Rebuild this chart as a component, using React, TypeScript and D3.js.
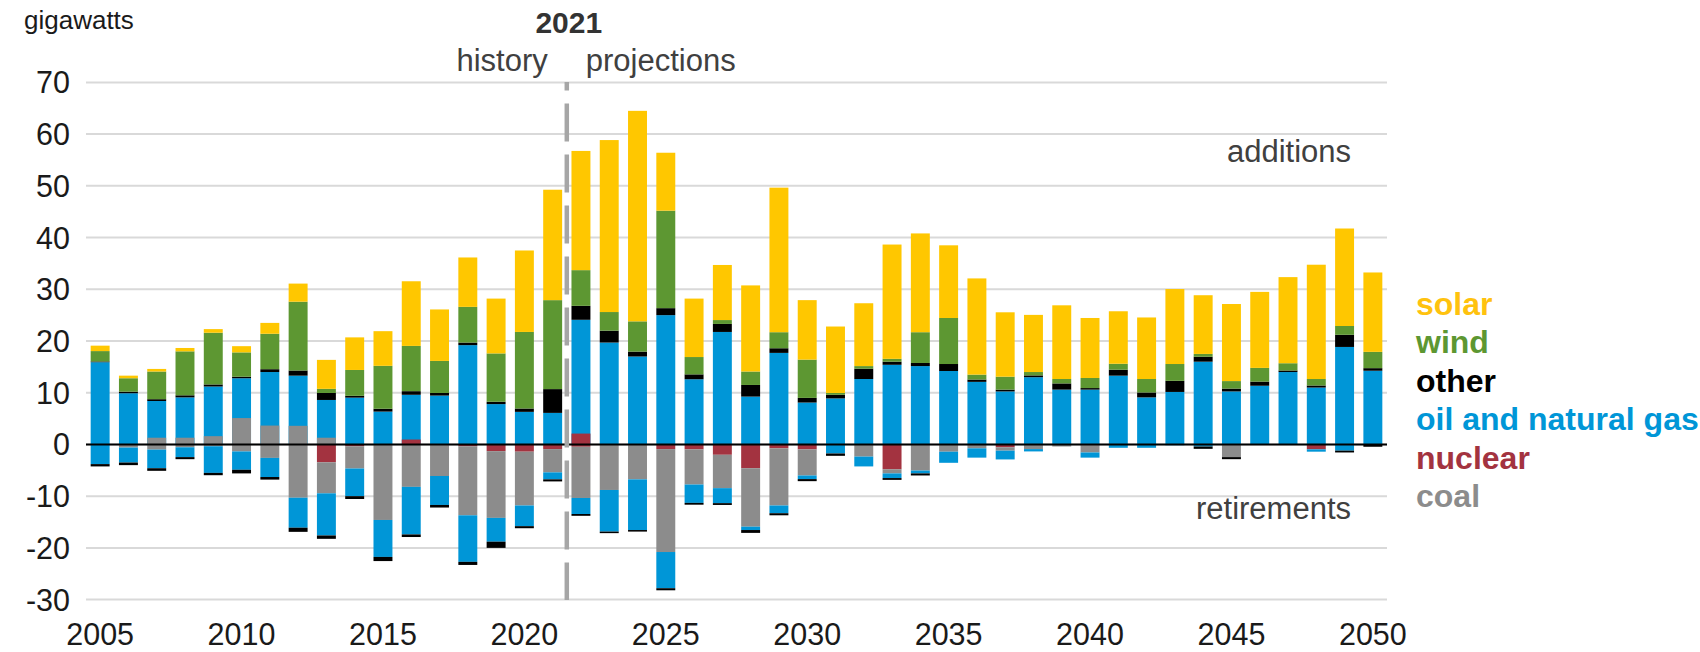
import React from 'react';
import * as d3 from 'd3';

// capacity additions and retirements, gigawatts, 2005-2050
const years = d3.range(2005, 2051);

const gasAdd = [15.9, 9.9, 8.4, 9.1, 11.2, 12.8, 14.0, 13.3, 8.6, 9.05, 6.35, 9.6, 9.45, 19.2, 7.8, 6.3, 6.1, 24.1, 19.7, 17.0, 25.0, 12.6, 21.75, 9.25, 17.7, 8.1, 8.9, 12.65, 15.4, 15.15, 14.2, 12.1, 10.25, 13.0, 10.6, 10.6, 13.3, 9.1, 10.15, 16.0, 10.25, 11.35, 14.0, 11.0, 18.85, 14.25];
const otherAdd = [0.15, 0.3, 0.35, 0.4, 0.4, 0.3, 0.55, 1.0, 1.35, 0.35, 0.55, 0.7, 0.5, 0.5, 0.45, 0.65, 4.6, 2.7, 2.3, 0.95, 1.35, 0.95, 1.55, 2.25, 0.9, 0.9, 0.7, 2.0, 0.6, 0.6, 1.35, 0.45, 0.35, 0.35, 1.2, 0.3, 1.15, 0.95, 2.15, 0.95, 0.55, 0.8, 0.3, 0.4, 2.35, 0.5];
const windAdd = [2.0, 2.6, 5.35, 8.5, 10.0, 4.7, 6.85, 13.3, 0.8, 5.0, 8.3, 8.75, 6.2, 6.9, 9.35, 14.8, 17.2, 6.9, 3.6, 5.85, 18.85, 3.35, 0.75, 2.6, 3.1, 7.4, 0.35, 0.5, 0.55, 5.95, 8.9, 0.95, 2.5, 0.65, 0.85, 1.95, 1.15, 2.6, 3.25, 0.55, 1.45, 2.65, 1.4, 1.25, 1.7, 3.15];
const solarAdd = [1.05, 0.5, 0.5, 0.65, 0.7, 1.2, 2.1, 3.5, 5.6, 6.3, 6.7, 12.5, 9.95, 9.55, 10.6, 15.75, 21.35, 23.05, 33.25, 40.7, 11.2, 11.3, 10.65, 16.65, 27.95, 11.5, 12.85, 12.15, 22.1, 19.1, 14.05, 18.6, 12.45, 11.05, 14.25, 11.6, 10.15, 11.9, 14.5, 11.35, 14.9, 14.7, 16.65, 22.1, 18.85, 15.35];

// coal and nuclear additions sit on the retirement bars, above zero
const coalAdd = [0, 0, 1.3, 1.3, 1.6, 5.1, 3.65, 3.6, 1.3, 0, 0, 0, 0, 0, 0, 0, 0, 0, 0, 0, 0, 0, 0, 0, 0, 0, 0, 0, 0, 0, 0, 0, 0, 0, 0, 0, 0, 0, 0, 0, 0, 0, 0, 0, 0, 0];
const nuclearAdd = [0, 0, 0, 0, 0, 0, 0, 0, 0, 0, 0, 0.95, 0, 0, 0, 0, 0, 2.1, 0, 0, 0, 0, 0, 0, 0, 0, 0, 0, 0, 0, 0, 0, 0, 0, 0, 0, 0, 0, 0, 0, 0, 0, 0, 0, 0, 0];

const nuclearRet = [0, 0, 0, 0, 0, 0, 0, 0, 3.45, 0.35, 0, 0, 0, 0.35, 1.3, 1.4, 0.9, 0.45, 0, 0, 0.9, 0.95, 2.0, 4.6, 0.75, 0.95, 0, 0, 4.8, 0, 0, 0, 0.55, 0, 0, 0, 0, 0, 0, 0, 0, 0, 0, 0.95, 0, 0];
const coalRet = [0, 0.6, 1.0, 0.55, 0.35, 1.35, 2.6, 10.3, 6.0, 4.3, 14.6, 8.2, 6.1, 13.35, 12.9, 10.4, 4.5, 9.9, 8.8, 6.75, 19.9, 6.8, 6.45, 11.3, 11.05, 5.05, 0, 2.35, 0.8, 5.05, 1.4, 0.75, 0.65, 0.9, 0.4, 1.55, 0, 0, 0, 0, 2.45, 0, 0, 0, 0, 0];
const gasRet = [3.8, 2.9, 3.6, 1.9, 5.15, 3.55, 3.7, 5.8, 8.15, 5.35, 7.15, 9.2, 5.6, 9.0, 4.6, 4.0, 1.35, 3.1, 8.05, 9.8, 7.0, 3.55, 2.9, 0.65, 1.5, 0.7, 1.75, 1.9, 0.9, 0.55, 2.15, 1.8, 1.7, 0.45, 0, 1.0, 0.65, 0.65, 0.15, 0.4, 0, 0.1, 0.1, 0.45, 1.2, 0];
const otherRet = [0.45, 0.5, 0.5, 0.4, 0.45, 0.7, 0.5, 0.8, 0.65, 0.55, 0.8, 0.5, 0.5, 0.6, 1.2, 0.4, 0.4, 0.35, 0.3, 0.3, 0.4, 0.35, 0.35, 0.55, 0.4, 0.4, 0.45, 0, 0.35, 0.4, 0, 0, 0, 0, 0, 0, 0, 0, 0, 0.45, 0.4, 0, 0, 0, 0.35, 0.45];

const yTicks = [70, 60, 50, 40, 30, 20, 10, 0, -10, -20, -30];
const xLabels = [2005, 2010, 2015, 2020, 2025, 2030, 2035, 2040, 2045, 2050];

const legend = [
  { label: 'solar', color: '#ffc20e' },
  { label: 'wind', color: '#5d9732' },
  { label: 'other', color: '#000000' },
  { label: 'oil and natural gas', color: '#0096d7' },
  { label: 'nuclear', color: '#a33340' },
  { label: 'coal', color: '#8c8c8c' },
];

const C = {
  solar: '#ffc700',
  wind: '#5d9732',
  other: '#000000',
  gas: '#0096d7',
  nuclear: '#a33340',
  coal: '#8c8c8c',
};

const font = 'Liberation Sans, Arial, Helvetica, sans-serif';

const App = () => {
  const W = 1700;
  const H = 652;

  const x = d3.scaleBand<number>()
    .domain(years)
    .range([86, 1387])
    .paddingInner(0.33)
    .paddingOuter(0.165);

  const y = d3.scaleLinear().domain([-30, 70]).range([599.6, 82.4]);

  const rows = years.map((yr, i) => ({
    year: yr,
    gas: gasAdd[i], other: otherAdd[i], wind: windAdd[i], solar: solarAdd[i],
    coalA: coalAdd[i], nucA: nuclearAdd[i],
    nucR: -nuclearRet[i], coalR: -coalRet[i], gasR: -gasRet[i], othR: -otherRet[i],
  }));

  const addKeys = ['gas', 'other', 'wind', 'solar'];
  const addColors = [C.gas, C.other, C.wind, C.solar];
  const addStack = d3.stack<any>().keys(addKeys)(rows);

  const overKeys = ['coalA', 'nucA'];
  const overColors = [C.coal, C.nuclear];
  const overStack = d3.stack<any>().keys(overKeys)(rows);

  const retKeys = ['nucR', 'coalR', 'gasR', 'othR'];
  const retColors = [C.nuclear, C.coal, C.gas, C.other];
  const retStack = d3.stack<any>().keys(retKeys).offset(d3.stackOffsetDiverging)(rows);

  const bw = x.bandwidth();

  const drawLayers = (stack: any[], colors: string[], prefix: string) =>
    stack.map((layer, li) => (
      <g key={prefix + li} fill={colors[li]}>
        {layer.map((d: any) => {
          const top = Math.max(d[0], d[1]);
          const bot = Math.min(d[0], d[1]);
          if (top - bot <= 0) return null;
          return (
            <rect
              key={d.data.year}
              x={x(d.data.year)}
              y={y(top)}
              width={bw}
              height={y(bot) - y(top)}
            />
          );
        })}
      </g>
    ));

  const divX = (x(2021)! + x(2022)! + bw) / 2;

  return (
    <svg width={W} height={H} style={{ display: 'block', position: 'absolute', left: 0, top: 0 }} fontFamily={font}>
      <rect width={W} height={H} fill="#ffffff" />

      {yTicks.map(t => (
        <g key={t}>
          <line x1={86} x2={1387} y1={y(t)} y2={y(t)} stroke="#d9d9d9" strokeWidth={2} />
          <text x={70} y={y(t) + 11} textAnchor="end" fontSize={30.5} fill="#1a1a1a">{t}</text>
        </g>
      ))}

      {drawLayers(addStack, addColors, 'a')}
      {drawLayers(overStack, overColors, 'o')}
      {drawLayers(retStack, retColors, 'r')}

      <line x1={86} x2={1387} y1={y(0)} y2={y(0)} stroke="#000" strokeWidth={2} />

      <line
        x1={divX} x2={divX} y1={82} y2={600}
        stroke="#a6a6a6" strokeWidth={4.5}
        strokeDasharray="38,13" strokeDashoffset={29.5}
      />

      {xLabels.map(yr => (
        <text key={yr} x={x(yr)! + bw / 2} y={645} textAnchor="middle" fontSize={30.5} fill="#1a1a1a">{yr}</text>
      ))}

      <text x={24} y={29} fontSize={26} fill="#1a1a1a">gigawatts</text>

      <text x={divX + 2} y={33} textAnchor="middle" fontSize={30} fontWeight="bold" fill="#333">2021</text>
      <text x={divX - 19} y={71} textAnchor="end" fontSize={31} fill="#404040">history</text>
      <text x={divX + 19} y={71} textAnchor="start" fontSize={31} fill="#404040">projections</text>

      <text x={1351} y={162} textAnchor="end" fontSize={31} fill="#404040">additions</text>
      <text x={1351} y={519} textAnchor="end" fontSize={31} fill="#404040">retirements</text>

      {legend.map((l, i) => (
        <text key={l.label} x={1416} y={315 + i * 38.4} fontSize={32} fontWeight="bold" fill={l.color}>{l.label}</text>
      ))}
    </svg>
  );
};

export default App;
